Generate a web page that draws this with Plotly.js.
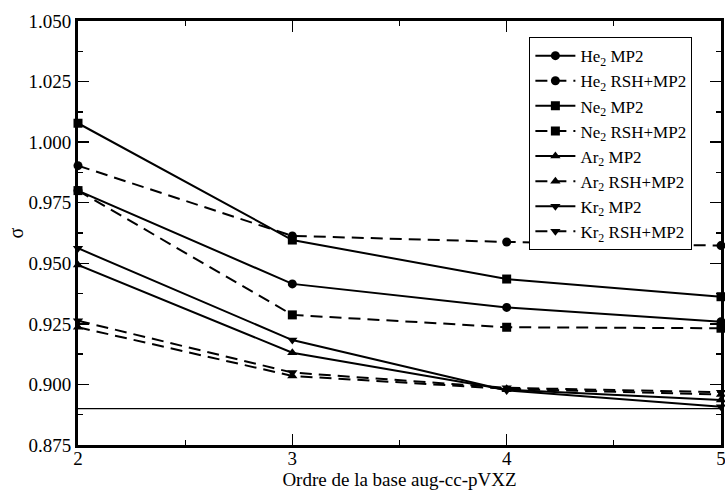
<!DOCTYPE html>
<html><head><meta charset="utf-8">
<script src="https://cdn.plot.ly/plotly-3.0.1.min.js"></script>
<style>body{margin:0;background:#fff}#chart{width:725px;height:491px}</style>
</head><body><div id="chart"></div>
<script>
const basis = [2, 3, 4, 5];
const he2_mp2 = [0.9800, 0.9415, 0.9318, 0.9259];
const he2_rsh = [0.9903, 0.9613, 0.9588, 0.9573];
const ne2_mp2 = [1.0078, 0.9596, 0.9435, 0.9362];
const ne2_rsh = [0.9800, 0.9287, 0.9236, 0.9232];
const ar2_mp2 = [0.9493, 0.9131, 0.8978, 0.8936];
const ar2_rsh = [0.9236, 0.9035, 0.8982, 0.8958];
const kr2_mp2 = [0.9562, 0.9183, 0.8975, 0.8908];
const kr2_rsh = [0.9263, 0.9049, 0.8986, 0.8968];
const refLine = [0.890, 0.890];
const refX = [2, 5];
const names = ["He<sub>2</sub> MP2","He<sub>2</sub> RSH+MP2","Ne<sub>2</sub> MP2","Ne<sub>2</sub> RSH+MP2",
               "Ar<sub>2</sub> MP2","Ar<sub>2</sub> RSH+MP2","Kr<sub>2</sub> MP2","Kr<sub>2</sub> RSH+MP2"];
const series = [he2_mp2, he2_rsh, ne2_mp2, ne2_rsh, ar2_mp2, ar2_rsh, kr2_mp2, kr2_rsh];
const symbols = ["circle","circle","square","square","triangle-up","triangle-up","triangle-down","triangle-down"];
const dashes = ["solid","12px,7px"];

const traces = [{
  x: refX, y: refLine, mode: "lines", line: {color: "#000", width: 1.3},
  showlegend: false, hoverinfo: "skip"
}];
series.forEach((s, i) => {
  traces.push({
    x: basis, y: s, name: names[i], mode: "lines+markers",
    line: {color: "#000", width: 2, dash: dashes[i % 2]},
    marker: {symbol: symbols[i], size: 9, color: "#000"},
    cliponaxis: false
  });
});

const FAM = "Liberation Serif";
const font = {family: FAM, color: "#000"};
const layout = {
  width: 725, height: 491,
  margin: {l: 78, r: 4, t: 21, b: 46},
  paper_bgcolor: "#fff", plot_bgcolor: "#fff",
  font: Object.assign({size: 18}, font),
  showlegend: true,
  legend: {
    x: 0.702, y: 0.962, xanchor: "left", yanchor: "top",
    bordercolor: "#000", borderwidth: 1, bgcolor: "#fff",
    font: Object.assign({size: 17}, font),
    itemwidth: 40, tracegroupgap: 0
  },
  xaxis: {
    range: [2, 5], tickvals: [2, 3, 4, 5], ticktext: ["2","3","4","5"],
    showgrid: false, zeroline: false,
    showline: true, linecolor: "#000", linewidth: 3, mirror: "allticks",
    ticks: "inside", ticklen: 11, tickwidth: 1.3, tickcolor: "#000",
    minor: {dtick: 0.5, ticks: "inside", ticklen: 5, tickwidth: 1.3, tickcolor: "#000", showgrid: false},
    tickfont: Object.assign({size: 19}, font),
    ticklabeloverflow: "allow", ticklabelstandoff: -6,
    title: {text: "Ordre de la base aug-cc-pVXZ", font: Object.assign({size: 19}, font), standoff: 0}
  },
  yaxis: {
    range: [0.875, 1.050], dtick: 0.025, tick0: 0.875, tickformat: ".3f",
    showgrid: false, zeroline: false,
    showline: true, linecolor: "#000", linewidth: 3, mirror: "allticks",
    ticks: "inside", ticklen: 11, tickwidth: 1.3, tickcolor: "#000",
    minor: {dtick: 0.0125, ticks: "inside", ticklen: 5, tickwidth: 1.3, tickcolor: "#000", showgrid: false},
    tickfont: Object.assign({size: 19}, font),
    title: {text: "σ", font: Object.assign({size: 20}, font), standoff: 0}
  }
};
Plotly.newPlot("chart", traces, layout, {displayModeBar: false, staticPlot: true});
</script></body></html>
